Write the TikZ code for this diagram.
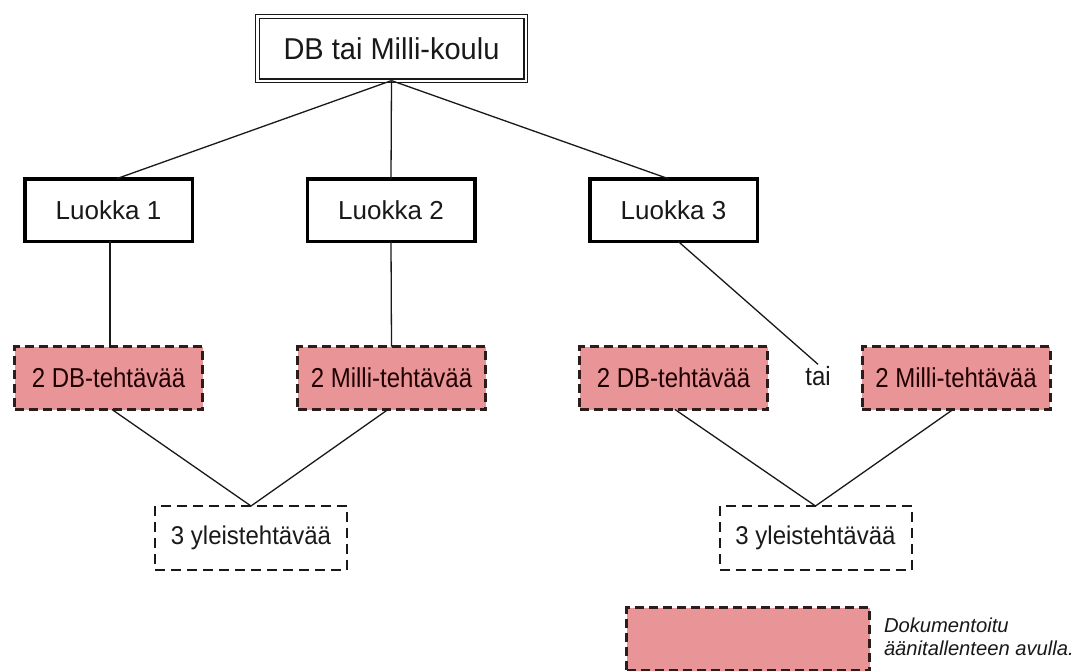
\documentclass[tikz,border=0pt]{standalone}
\usepackage{fontspec}
\usepackage{graphicx}
\setmainfont{Liberation Sans}
\definecolor{pinkfill}{RGB}{233,149,152}
\definecolor{dashink}{RGB}{45,28,28}
\definecolor{ink}{RGB}{25,25,25}
% slightly taller lettering
\newcommand{\vstretch}[2]{\scalebox{1}[#1]{#2}}
\begin{document}
\begin{tikzpicture}[x=1pt,y=-1pt,
  every node/.style={outer sep=0pt,inner sep=0pt,text=ink},
  topbox/.style={draw=ink,line width=1.2pt,double=white,double distance=2.2pt,
    minimum width=268.2pt,minimum height=64.2pt,font=\fontsize{29}{33}\selectfont},
  classbox/.style={draw=black,line width=3.5pt,minimum width=167.5pt,minimum height=62.5pt,
    font=\fontsize{26}{30}\selectfont},
  taskbox/.style={draw=dashink,fill=pinkfill,line width=3pt,dash pattern=on 9pt off 5pt,
    minimum width=188pt,minimum height=63pt,text=black!80!red!60!black,
    font=\fontsize{24}{28}\selectfont},
  genbox/.style={draw=ink,line width=2pt,dash pattern=on 10pt off 6pt,
    minimum width=192pt,minimum height=64pt,font=\fontsize{24}{28}\selectfont},
  keyfont/.style={anchor=base west,font=\fontsize{20.2}{22}\selectfont\itshape},
  link/.style={draw=ink,line width=1.3pt}]
\useasboundingbox[fill=white] (0,0) rectangle (1077,670);

% root and classes
\node[topbox] (root) at (391.5,48.5) {\vstretch{1.04}{DB tai Milli-koulu}};
\node[classbox] (c1) at (108.5,210) {Luokka 1};
\node[classbox] (c2) at (391,210) {Luokka 2};
\node[classbox] (c3) at (673.5,210) {Luokka 3};

% class-specific tasks
\node[taskbox] (t1) at (108.5,378) {\vstretch{1.14}{2 DB-tehtävää}};
\node[taskbox] (t2) at (391.5,378) {\vstretch{1.14}{2 Milli-tehtävää}};
\node[taskbox] (t3) at (673.5,378) {\vstretch{1.14}{2 DB-tehtävää}};
\node[taskbox] (t4) at (956,378) {\vstretch{1.14}{2 Milli-tehtävää}};
\node[font=\fontsize{24}{28}\selectfont,inner sep=2pt] (or) at (818,376) {\vstretch{1.1}{tai}};

% general tasks
\node[genbox] (g1) at (251,538) {\vstretch{1.07}{3 yleistehtävää}};
\node[genbox] (g2) at (815.5,538) {\vstretch{1.07}{3 yleistehtävää}};

% legend
\node[taskbox,minimum width=243pt] (key) at (748,639) {};
\node[keyfont] (keyline1) at (884,632) {Dokumentoitu};
\node[keyfont] (keyline2) at (884,655) {äänitallenteen avulla.};

% connectors
\draw[link] (root.south) -- ([xshift=8pt]c1.north);
\draw[link] (root.south) -- (c2.north);
\draw[link] (root.south) -- ([xshift=-5pt]c3.north);
\draw[link] ([xshift=1.5pt]c1.south) -- ([xshift=1.5pt]t1.north);
\draw[link] (c2.south) -- (t2.north);
\draw[link] ([xshift=4.5pt]c3.south) -- (or.north);
\draw[link] ([xshift=3.5pt]t1.south) -- (g1.north);
\draw[link] ([xshift=-3.5pt]t2.south) -- (g1.north);
\draw[link] ([xshift=1.5pt]t3.south) -- (g2.north);
\draw[link] ([xshift=-3pt]t4.south) -- (g2.north);
\end{tikzpicture}
\end{document}
